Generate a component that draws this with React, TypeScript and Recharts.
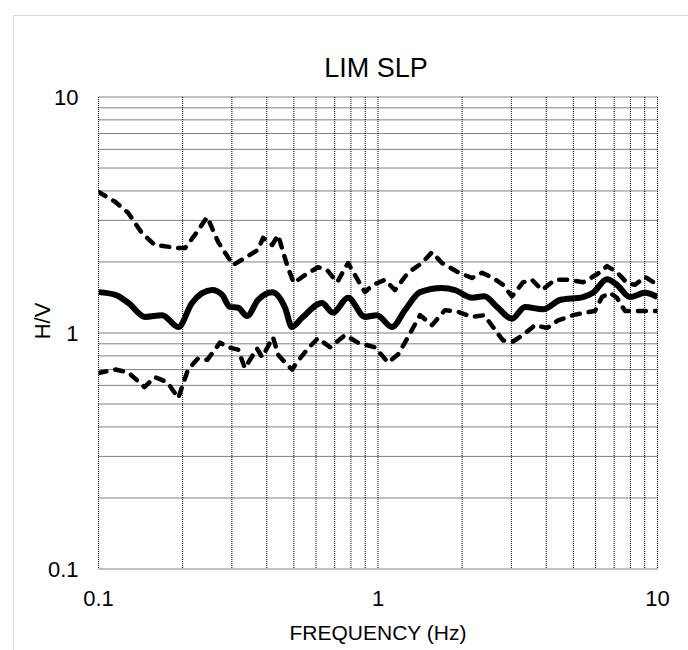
import { CartesianGrid, Line, LineChart, XAxis, YAxis } from 'recharts'

// frequency (Hz) / H/V ratio
const meanFreq = [0.1, 0.115, 0.128, 0.147, 0.169, 0.193, 0.216, 0.255, 0.277, 0.295, 0.316, 0.34, 0.372, 0.418, 0.465, 0.492, 0.535, 0.63, 0.69, 0.781, 0.898, 0.992, 1.122, 1.249, 1.414, 1.694, 1.886, 2.17, 2.4, 2.665, 3.016, 3.357, 3.894, 4.48, 5.413, 5.878, 6.597, 7.16, 7.97, 9.02, 10]
const meanHV = [1.49, 1.45, 1.34, 1.17, 1.19, 1.06, 1.34, 1.52, 1.45, 1.29, 1.28, 1.18, 1.38, 1.49, 1.28, 1.06, 1.16, 1.34, 1.22, 1.41, 1.17, 1.19, 1.06, 1.25, 1.49, 1.55, 1.52, 1.41, 1.43, 1.29, 1.15, 1.29, 1.26, 1.38, 1.42, 1.48, 1.69, 1.6, 1.42, 1.48, 1.42]

const upperFreq = [0.1, 0.115, 0.128, 0.143, 0.159, 0.193, 0.204, 0.221, 0.245, 0.268, 0.303, 0.334, 0.372, 0.388, 0.418, 0.439, 0.476, 0.5, 0.548, 0.61, 0.657, 0.714, 0.781, 0.827, 0.898, 0.959, 1.059, 1.15, 1.28, 1.437, 1.56, 1.694, 1.933, 2.17, 2.356, 2.578, 2.8, 3.016, 3.3, 3.556, 3.863, 4.298, 4.864, 5.413, 5.64, 6.228, 6.597, 7.16, 7.78, 8.31, 9.02, 10]
const upperHV = [3.96, 3.59, 3.22, 2.65, 2.36, 2.29, 2.29, 2.6, 3.1, 2.43, 1.94, 2.08, 2.25, 2.53, 2.36, 2.6, 1.89, 1.63, 1.76, 1.9, 1.85, 1.64, 1.98, 1.76, 1.49, 1.6, 1.68, 1.52, 1.8, 1.98, 2.2, 1.98, 1.81, 1.71, 1.8, 1.71, 1.6, 1.43, 1.64, 1.68, 1.52, 1.68, 1.68, 1.64, 1.68, 1.81, 1.92, 1.81, 1.63, 1.6, 1.73, 1.6]

const lowerFreq = [0.1, 0.115, 0.128, 0.146, 0.159, 0.176, 0.193, 0.209, 0.227, 0.245, 0.272, 0.291, 0.316, 0.334, 0.369, 0.385, 0.421, 0.439, 0.465, 0.492, 0.526, 0.562, 0.61, 0.674, 0.762, 0.848, 0.975, 1.086, 1.179, 1.28, 1.414, 1.56, 1.736, 1.933, 2.17, 2.4, 2.578, 2.8, 3.04, 3.3, 3.645, 4.025, 4.406, 4.986, 5.503, 5.976, 6.33, 6.76, 7.16, 7.65, 8.66, 10]
const lowerHV = [0.677, 0.7, 0.68, 0.59, 0.65, 0.62, 0.53, 0.7, 0.78, 0.77, 0.91, 0.87, 0.85, 0.71, 0.86, 0.79, 0.96, 0.81, 0.75, 0.7, 0.78, 0.86, 0.95, 0.87, 0.98, 0.91, 0.87, 0.75, 0.81, 0.96, 1.19, 1.08, 1.25, 1.23, 1.17, 1.19, 1.06, 0.93, 0.92, 0.98, 1.08, 1.05, 1.13, 1.19, 1.22, 1.24, 1.42, 1.48, 1.41, 1.24, 1.24, 1.24]

// grid lines at every 1..9 step of each decade, labels only on decades
const gridTicks = [0.1, 0.2, 0.3, 0.4, 0.5, 0.6, 0.7, 0.8, 0.9, 1, 2, 3, 4, 5, 6, 7, 8, 9, 10]
const decadeTicks = [0.1, 1, 10]

const toPoints = (f: number[], v: number[]) => f.map((x, i) => ({ f: x, v: v[i] }))
const mean = toPoints(meanFreq, meanHV)
const upper = toPoints(upperFreq, upperHV)
const lower = toPoints(lowerFreq, lowerHV)

const FONT = "Arial, 'Liberation Sans', sans-serif"

function FreqTick({ x, y, payload }: any) {
  if (!decadeTicks.includes(payload.value)) return <g />
  return (
    <text x={x} y={y + 37} textAnchor="middle" fontSize={22} fontFamily={FONT} fill="#000">
      {String(payload.value)}
    </text>
  )
}

function RatioTick({ x, y, payload }: any) {
  if (!decadeTicks.includes(payload.value)) return <g />
  return (
    <text x={x - 20} y={y + 8} textAnchor="end" fontSize={22} fontFamily={FONT} fill="#000">
      {String(payload.value)}
    </text>
  )
}

const dashed = {
  stroke: '#000',
  strokeWidth: 4.5,
  strokeDasharray: '8 9',
  strokeLinecap: 'round' as const,
  strokeLinejoin: 'round' as const,
}

export default function App() {
  return (
    <div
      style={{
        position: 'absolute',
        left: 0,
        top: 0,
        width: 688,
        height: 650,
        overflow: 'hidden',
        background: '#fff',
        fontFamily: FONT,
      }}
    >
      <div
        style={{
          position: 'absolute',
          left: 13,
          top: 15,
          width: 700,
          height: 700,
          border: '1px solid #d9d9d9',
        }}
      />
      <div style={{ position: 'absolute', left: 0, top: 0 }}>
        <LineChart width={688} height={650} margin={{ top: 97, right: 30.5, bottom: 41, left: 38.5 }}>
          <CartesianGrid stroke="#000" strokeDasharray="1 1" />
          <XAxis
            dataKey="f"
            type="number"
            scale="log"
            domain={[0.1, 10]}
            ticks={gridTicks}
            allowDataOverflow
            height={40}
            axisLine={false}
            tickLine={false}
            tickSize={0}
            tickMargin={0}
            interval={0}
            tick={<FreqTick />}
          />
          <YAxis
            type="number"
            scale="log"
            domain={[0.1, 10]}
            ticks={gridTicks}
            allowDataOverflow
            width={60}
            axisLine={false}
            tickLine={false}
            tickSize={0}
            tickMargin={0}
            interval={0}
            tick={<RatioTick />}
          />
          <Line data={upper} dataKey="v" type="linear" dot={false} isAnimationActive={false} {...dashed} />
          <Line data={lower} dataKey="v" type="linear" dot={false} isAnimationActive={false} {...dashed} />
          <Line
            data={mean}
            dataKey="v"
            type="monotone"
            dot={false}
            stroke="#000"
            strokeWidth={6}
            strokeLinejoin="round"
            isAnimationActive={false}
          />
        </LineChart>
      </div>
      <svg width={688} height={650} style={{ position: 'absolute', left: 0, top: 0, pointerEvents: 'none' }}>
        <text x={376} y={77} textAnchor="middle" fontSize={27} fontFamily={FONT} fill="#000">
          LIM SLP
        </text>
        <text
          x={50}
          y={321}
          transform="rotate(-90 50 321)"
          textAnchor="middle"
          fontSize={22}
          fontFamily={FONT}
          fill="#000"
        >
          H/V
        </text>
        <text x={378} y={640} textAnchor="middle" fontSize={21} fontFamily={FONT} fill="#000">
          FREQUENCY (Hz)
        </text>
      </svg>
    </div>
  )
}
